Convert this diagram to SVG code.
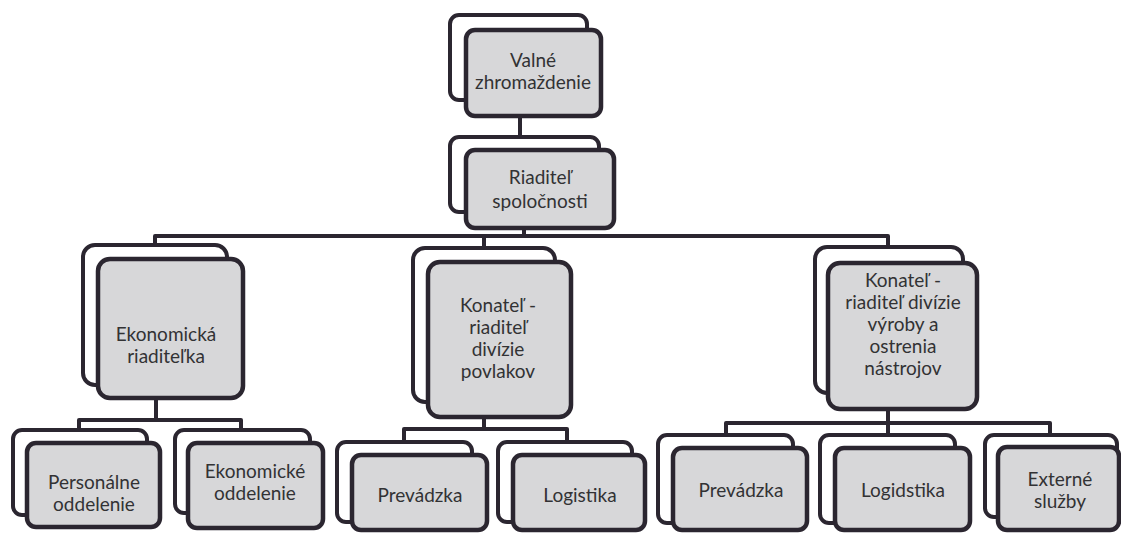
<svg xmlns="http://www.w3.org/2000/svg" width="1121" height="533" viewBox="0 0 1121 533">
<style>
.bk{fill:#ffffff;stroke:#2b2630;stroke-width:4}
.fr{fill:#d7d7d9;stroke:#2b2630;stroke-width:4.5}
.ln{fill:none;stroke:#2b2630;stroke-width:4;stroke-linejoin:round}
text{font-family:Lato,"Open Sans","DejaVu Sans",sans-serif;fill:#323234;text-anchor:middle;font-size:19px}
</style>
<rect width="1121" height="533" fill="#ffffff"/>
<g id="connectors">
<path class="ln" d="M520,116 V137"/>
<path class="ln" d="M524,228 V236 M155,245 V236 H888 V247 M484,236 V248"/>
<path class="ln" d="M156,398 V420 M79,430 V420 H241 V430"/>
<path class="ln" d="M484,417 V429 M404,442 V429 H567 V442"/>
<path class="ln" d="M888,409 V435 M726,435 V423 H1050 V435"/>
</g>
<g id="n-valne">
<rect class="bk" x="450" y="15" width="137" height="85" rx="9"/>
<rect class="fr" x="466" y="30" width="135" height="86" rx="9"/>
<text x="533" y="67" font-size="16">Valné</text>
<text x="533" y="89" font-size="16">zhromaždenie</text>
</g>
<g id="n-riaditel">
<rect class="bk" x="450" y="137" width="149" height="75" rx="9"/>
<rect class="fr" x="466" y="150" width="148" height="78" rx="9"/>
<text x="540" y="184" font-size="24">Riaditeľ</text>
<text x="540" y="208" font-size="24">spoločnosti</text>
</g>
<g id="n-ekon-riad">
<rect class="bk" x="83" y="245" width="144" height="140" rx="12"/>
<rect class="fr" x="98" y="259" width="145" height="139" rx="12"/>
<text x="166" y="341">Ekonomická</text>
<text x="166" y="363">riaditeľka</text>
</g>
<g id="n-konatel-povlakov">
<rect class="bk" x="413" y="248" width="142" height="154" rx="12"/>
<rect class="fr" x="428" y="262" width="143" height="155" rx="12"/>
<text x="498" y="312">Konateľ -</text>
<text x="498" y="334">riaditeľ</text>
<text x="498" y="356">divízie</text>
<text x="498" y="378">povlakov</text>
</g>
<g id="n-konatel-vyroby">
<rect class="bk" x="815" y="247" width="148" height="146" rx="12"/>
<rect class="fr" x="828" y="263" width="149" height="146" rx="12"/>
<text x="903" y="287">Konateľ -</text>
<text x="903" y="309">riaditeľ divízie</text>
<text x="903" y="331">výroby a</text>
<text x="903" y="353">ostrenia</text>
<text x="903" y="375">nástrojov</text>
</g>
<g id="n-personalne">
<rect class="bk" x="13" y="430" width="134" height="85" rx="9"/>
<rect class="fr" x="27" y="443" width="133" height="84" rx="9"/>
<text x="94" y="489">Personálne</text>
<text x="94" y="511">oddelenie</text>
</g>
<g id="n-ekon-odd">
<rect class="bk" x="175" y="430" width="135" height="83" rx="9"/>
<rect class="fr" x="188" y="443" width="135" height="85" rx="9"/>
<text x="255" y="478">Ekonomické</text>
<text x="255" y="500">oddelenie</text>
</g>
<g id="n-prevadzka1">
<rect class="bk" x="337" y="442" width="135" height="80" rx="9"/>
<rect class="fr" x="352" y="455" width="135" height="75" rx="9"/>
<text x="420" y="502">Prevádzka</text>
</g>
<g id="n-logistika">
<rect class="bk" x="498" y="442" width="134" height="80" rx="9"/>
<rect class="fr" x="513" y="455" width="132" height="75" rx="9"/>
<text x="580" y="502">Logistika</text>
</g>
<g id="n-prevadzka2">
<rect class="bk" x="658" y="435" width="135" height="88" rx="9"/>
<rect class="fr" x="673" y="448" width="134" height="82" rx="9"/>
<text x="741" y="497">Prevádzka</text>
</g>
<g id="n-logidstika">
<rect class="bk" x="820" y="435" width="135" height="88" rx="9"/>
<rect class="fr" x="835" y="448" width="135" height="82" rx="9"/>
<text x="903" y="497">Logidstika</text>
</g>
<g id="n-externe">
<rect class="bk" x="985" y="435" width="132" height="82" rx="9"/>
<rect class="fr" x="998" y="447" width="121" height="83" rx="9"/>
<text x="1060" y="486">Externé</text>
<text x="1060" y="508">služby</text>
</g>
</svg>
